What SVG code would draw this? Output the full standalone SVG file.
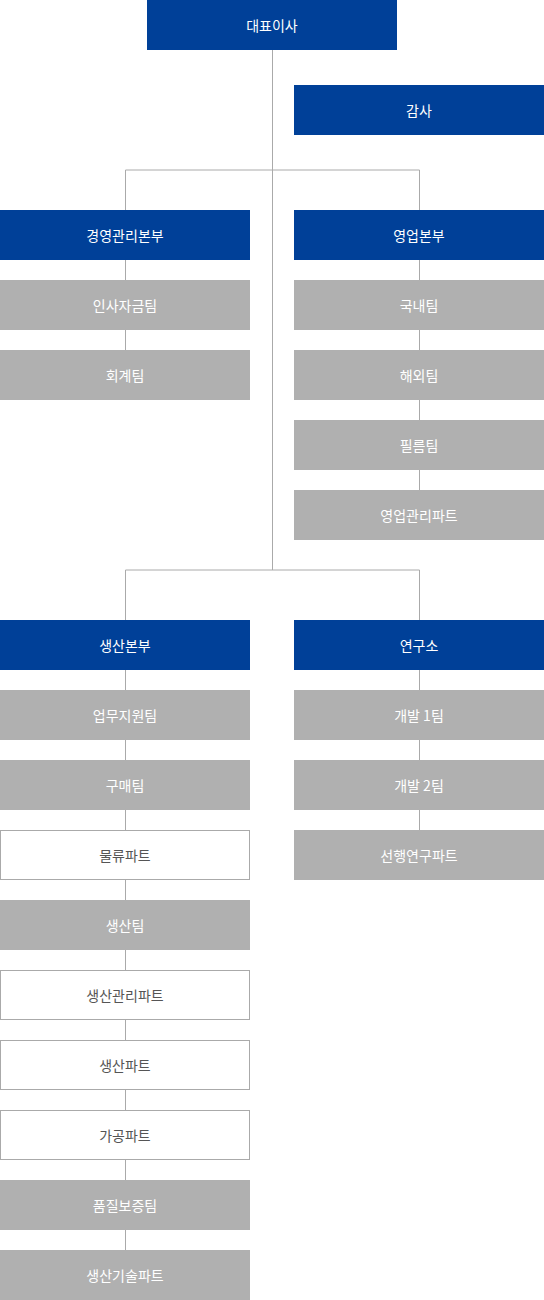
<svg xmlns="http://www.w3.org/2000/svg" width="544" height="1300" viewBox="0 0 544 1300">
<style>
.b{fill:#004098}
.g{fill:#b0b0b0}
.w{fill:#ffffff;stroke:#aaaaaa;stroke-width:1}
text{font-family:"Noto Sans CJK KR","Noto Sans",sans-serif;font-size:14px;text-anchor:middle;dominant-baseline:central}
.tb,.tg{fill:#ffffff}
.tw{fill:#555555}
.c{stroke:#aaaaaa;stroke-width:1;fill:none}
</style>
<g id="connectors">
<path class="c" d="M272.5 50V570M125.5 170H419.5M125.5 170V210M419.5 170V210M125.5 570H419.5M125.5 570V620M419.5 570V620"/>
<path class="c" d="M125.5 260V350M419.5 260V490M125.5 670V1250M419.5 670V830"/>
</g>
<g id="n-ceo"><rect class="b" x="147" y="0" width="250" height="50"/><text class="tb" x="272" y="25">대표이사</text></g>
<g id="n-audit"><rect class="b" x="294" y="85" width="250" height="50"/><text class="tb" x="419" y="110">감사</text></g>
<g id="n-mgmt"><rect class="b" x="0" y="210" width="250" height="50"/><text class="tb" x="125" y="235">경영관리본부</text></g>
<g id="n-hr"><rect class="g" x="0" y="280" width="250" height="50"/><text class="tg" x="125" y="305">인사자금팀</text></g>
<g id="n-acct"><rect class="g" x="0" y="350" width="250" height="50"/><text class="tg" x="125" y="375">회계팀</text></g>
<g id="n-sales"><rect class="b" x="294" y="210" width="250" height="50"/><text class="tb" x="419" y="235">영업본부</text></g>
<g id="n-dom"><rect class="g" x="294" y="280" width="250" height="50"/><text class="tg" x="419" y="305">국내팀</text></g>
<g id="n-ovs"><rect class="g" x="294" y="350" width="250" height="50"/><text class="tg" x="419" y="375">해외팀</text></g>
<g id="n-film"><rect class="g" x="294" y="420" width="250" height="50"/><text class="tg" x="419" y="445">필름팀</text></g>
<g id="n-salesmgmt"><rect class="g" x="294" y="490" width="250" height="50"/><text class="tg" x="419" y="515">영업관리파트</text></g>
<g id="n-prod"><rect class="b" x="0" y="620" width="250" height="50"/><text class="tb" x="125" y="645">생산본부</text></g>
<g id="n-ops"><rect class="g" x="0" y="690" width="250" height="50"/><text class="tg" x="125" y="715">업무지원팀</text></g>
<g id="n-purch"><rect class="g" x="0" y="760" width="250" height="50"/><text class="tg" x="125" y="785">구매팀</text></g>
<g id="n-logi"><rect class="w" x="0.5" y="830.5" width="249" height="49"/><text class="tw" x="125" y="855">물류파트</text></g>
<g id="n-prodteam"><rect class="g" x="0" y="900" width="250" height="50"/><text class="tg" x="125" y="925">생산팀</text></g>
<g id="n-prodmgmt"><rect class="w" x="0.5" y="970.5" width="249" height="49"/><text class="tw" x="125" y="995">생산관리파트</text></g>
<g id="n-prodpart"><rect class="w" x="0.5" y="1040.5" width="249" height="49"/><text class="tw" x="125" y="1065">생산파트</text></g>
<g id="n-proc"><rect class="w" x="0.5" y="1110.5" width="249" height="49"/><text class="tw" x="125" y="1135">가공파트</text></g>
<g id="n-qa"><rect class="g" x="0" y="1180" width="250" height="50"/><text class="tg" x="125" y="1205">품질보증팀</text></g>
<g id="n-tech"><rect class="g" x="0" y="1250" width="250" height="50"/><text class="tg" x="125" y="1275">생산기술파트</text></g>
<g id="n-lab"><rect class="b" x="294" y="620" width="250" height="50"/><text class="tb" x="419" y="645">연구소</text></g>
<g id="n-dev1"><rect class="g" x="294" y="690" width="250" height="50"/><text class="tg" x="419" y="715">개발 1팀</text></g>
<g id="n-dev2"><rect class="g" x="294" y="760" width="250" height="50"/><text class="tg" x="419" y="785">개발 2팀</text></g>
<g id="n-adv"><rect class="g" x="294" y="830" width="250" height="50"/><text class="tg" x="419" y="855">선행연구파트</text></g>
</svg>
